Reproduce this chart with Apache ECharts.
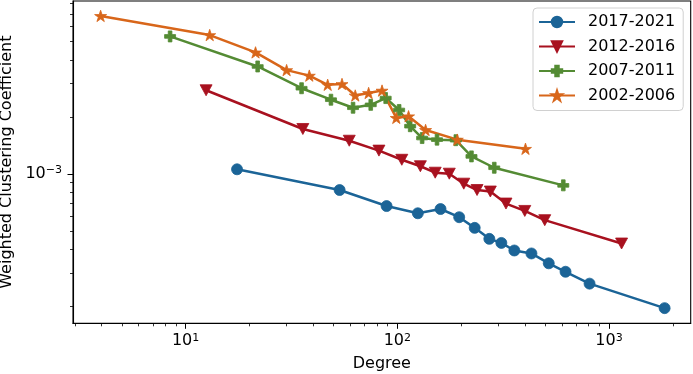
<!DOCTYPE html>
<html>
<head>
<meta charset="utf-8">
<script src="https://cdn.jsdelivr.net/npm/echarts@6/dist/echarts.min.js"></script>
<style>
  html, body { margin: 0; padding: 0; background: #fff; }
  #chart { width: 693px; height: 374px; }
</style>
</head>
<body>
<div id="chart"></div>
<script>
// valores (log-log)
var periodos = ['2017-2021', '2012-2016', '2007-2011', '2002-2006'];

var grado2017 = [17.5, 53.4, 89, 125, 160, 196, 232, 272, 310, 357, 430, 519, 623, 809, 1830];
var coef2017 = [1.06e-3, 8.24e-4, 6.78e-4, 6.21e-4, 6.54e-4, 5.92e-4, 5.20e-4, 4.55e-4, 4.33e-4, 3.95e-4, 3.81e-4, 3.38e-4, 3.05e-4, 2.64e-4, 1.96e-4];

var grado2012 = [12.5, 35.8, 59.3, 81.9, 105, 128.5, 151, 176, 206, 238, 275, 326, 400, 497, 1146];
var coef2012 = [2.77e-3, 1.73e-3, 1.50e-3, 1.33e-3, 1.19e-3, 1.10e-3, 1.017e-3, 1.005e-3, 8.90e-4, 8.24e-4, 8.09e-4, 6.99e-4, 6.39e-4, 5.71e-4, 4.30e-4];

var grado2007 = [8.45, 21.9, 35.3, 48.6, 61.8, 74.9, 88.1, 102, 115, 131, 154, 189, 224, 287, 608];
var coef2007 = [5.33e-3, 3.70e-3, 2.84e-3, 2.47e-3, 2.24e-3, 2.32e-3, 2.52e-3, 2.18e-3, 1.79e-3, 1.55e-3, 1.52e-3, 1.51e-3, 1.24e-3, 1.08e-3, 8.72e-4];

var grado2002 = [3.97, 13.0, 21.4, 30.0, 38.4, 46.9, 54.8, 63.3, 73.2, 84.7, 98.9, 113, 136, 192, 403];
var coef2002 = [6.84e-3, 5.42e-3, 4.39e-3, 3.54e-3, 3.31e-3, 2.96e-3, 2.99e-3, 2.60e-3, 2.68e-3, 2.76e-3, 1.98e-3, 2.02e-3, 1.71e-3, 1.52e-3, 1.36e-3];

var ticksXMayor = [10, 100, 1000];
var ticksXMenor = [3, 4, 5, 6, 7, 8, 9, 20, 30, 40, 50, 60, 70, 80, 90, 200, 300, 400, 500, 600, 700, 800, 900, 2000];
var ticksYMayor = [1e-3];
var ticksYMenor = [2e-4, 3e-4, 4e-4, 5e-4, 6e-4, 7e-4, 8e-4, 9e-4, 2e-3, 3e-3, 4e-3, 5e-3, 6e-3, 7e-3, 8e-3];

// marcadores tipo matplotlib
function estrella() {
    var pts = [];
    for (var i = 0; i < 10; i++) {
        var r = i % 2 === 0 ? 1 : 0.381966;
        var a = -Math.PI / 2 + i * Math.PI / 5;
        pts.push((r * Math.cos(a)).toFixed(4) + ',' + (r * Math.sin(a)).toFixed(4));
    }
    return 'path://M' + pts.join(' L') + ' Z';
}
var simboloCruz = 'path://M-1,-3 L1,-3 L1,-1 L3,-1 L3,1 L1,1 L1,3 L-1,3 L-1,1 L-3,1 L-3,-1 L-1,-1 Z';
var simboloTriangulo = 'path://M0,0 L2,0 L1,2 Z';

var estilos = [
    { color: '#1b6497', symbol: 'circle', size: 11 },
    { color: '#a8111f', symbol: simboloTriangulo, size: [12, 11] },
    { color: '#548b34', symbol: simboloCruz, size: 11 },
    { color: '#d8661a', symbol: estrella(), size: [12, 11.4] }
];

var grados = [grado2017, grado2012, grado2007, grado2002];
var coefs = [coef2017, coef2012, coef2007, coef2002];

var series = periodos.map(function (nombre, i) {
    return {
        name: nombre,
        type: 'line',
        xAxisIndex: 0,
        yAxisIndex: 0,
        data: grados[i].map(function (g, j) { return [g, coefs[i][j]]; }),
        symbol: estilos[i].symbol,
        symbolSize: estilos[i].size,
        showAllSymbol: true,
        lineStyle: { color: estilos[i].color, width: 2.5 },
        itemStyle: { color: estilos[i].color, borderColor: estilos[i].color, borderWidth: 0.8 },
        emphasis: { disabled: true }
    };
});

function potencia(v) {
    var e = Math.round(Math.log10(v));
    return '10{s|' + (e < 0 ? '\u2212' + (-e) : e) + '}';
}

var fuente = 'DejaVu Sans';
var richSup = { s: { fontSize: 11, fontFamily: fuente, color: '#000', padding: [0, 0, 7, 0] } };

var xMin = 2.94, xMax = 2430, yMin = 1.63e-4, yMax = 8.2e-3;

var option = {
    animation: false,
    textStyle: { fontFamily: fuente },
    grid: {
        left: 73, right: 2.3, top: 1, bottom: 50.7,
        outerBoundsMode: 'none', containLabel: false,
        show: true, borderColor: '#000', borderWidth: 1.1
    },
    legend: {
        data: periodos,
        orient: 'vertical',
        left: 533,
        top: 8,
        itemWidth: 36,
        itemHeight: 13,
        itemGap: 8.5,
        padding: [6, 8, 7, 5],
        backgroundColor: '#fff',
        borderColor: '#d0d0d0',
        borderWidth: 1,
        borderRadius: 4,
        textStyle: { fontSize: 16, fontFamily: fuente, color: '#000', lineHeight: 16, padding: [0, 0, 0, 8] }
    },
    xAxis: [
        {
            type: 'log', min: xMin, max: xMax,
            name: 'Degree', nameLocation: 'middle', nameGap: 33,
            nameTextStyle: { fontSize: 16, fontFamily: fuente, color: '#000' },
            axisLine: { show: true, lineStyle: { color: '#000', width: 1.1 } },
            axisTick: { show: true, length: 5.5, customValues: ticksXMayor, lineStyle: { color: '#000', width: 1 } },
            axisLabel: { customValues: ticksXMayor, margin: 9, fontSize: 16, color: '#000', formatter: potencia, rich: richSup },
            splitLine: { show: false }
        },
        {
            type: 'log', min: xMin, max: xMax, position: 'bottom',
            axisLine: { show: false },
            axisTick: { show: true, length: 3, customValues: ticksXMenor, lineStyle: { color: '#000', width: 0.8 } },
            axisLabel: { show: false },
            splitLine: { show: false }
        }
    ],
    yAxis: [
        {
            type: 'log', min: yMin, max: yMax,
            name: 'Weighted Clustering Coefficient', nameLocation: 'middle', nameGap: 57,
            nameTextStyle: { fontSize: 16, fontFamily: fuente, color: '#000' },
            axisLine: { show: true, lineStyle: { color: '#000', width: 1.1 } },
            axisTick: { show: true, length: 5.5, customValues: ticksYMayor, lineStyle: { color: '#000', width: 1 } },
            axisLabel: { customValues: ticksYMayor, margin: 11, fontSize: 16, color: '#000', formatter: potencia, rich: richSup },
            splitLine: { show: false }
        },
        {
            type: 'log', min: yMin, max: yMax, position: 'left',
            axisLine: { show: false },
            axisTick: { show: true, length: 3, customValues: ticksYMenor, lineStyle: { color: '#000', width: 0.8 } },
            axisLabel: { show: false },
            splitLine: { show: false }
        }
    ],
    series: series
};

var chart = echarts.init(document.getElementById('chart'));
chart.setOption(option);
</script>
</body>
</html>
